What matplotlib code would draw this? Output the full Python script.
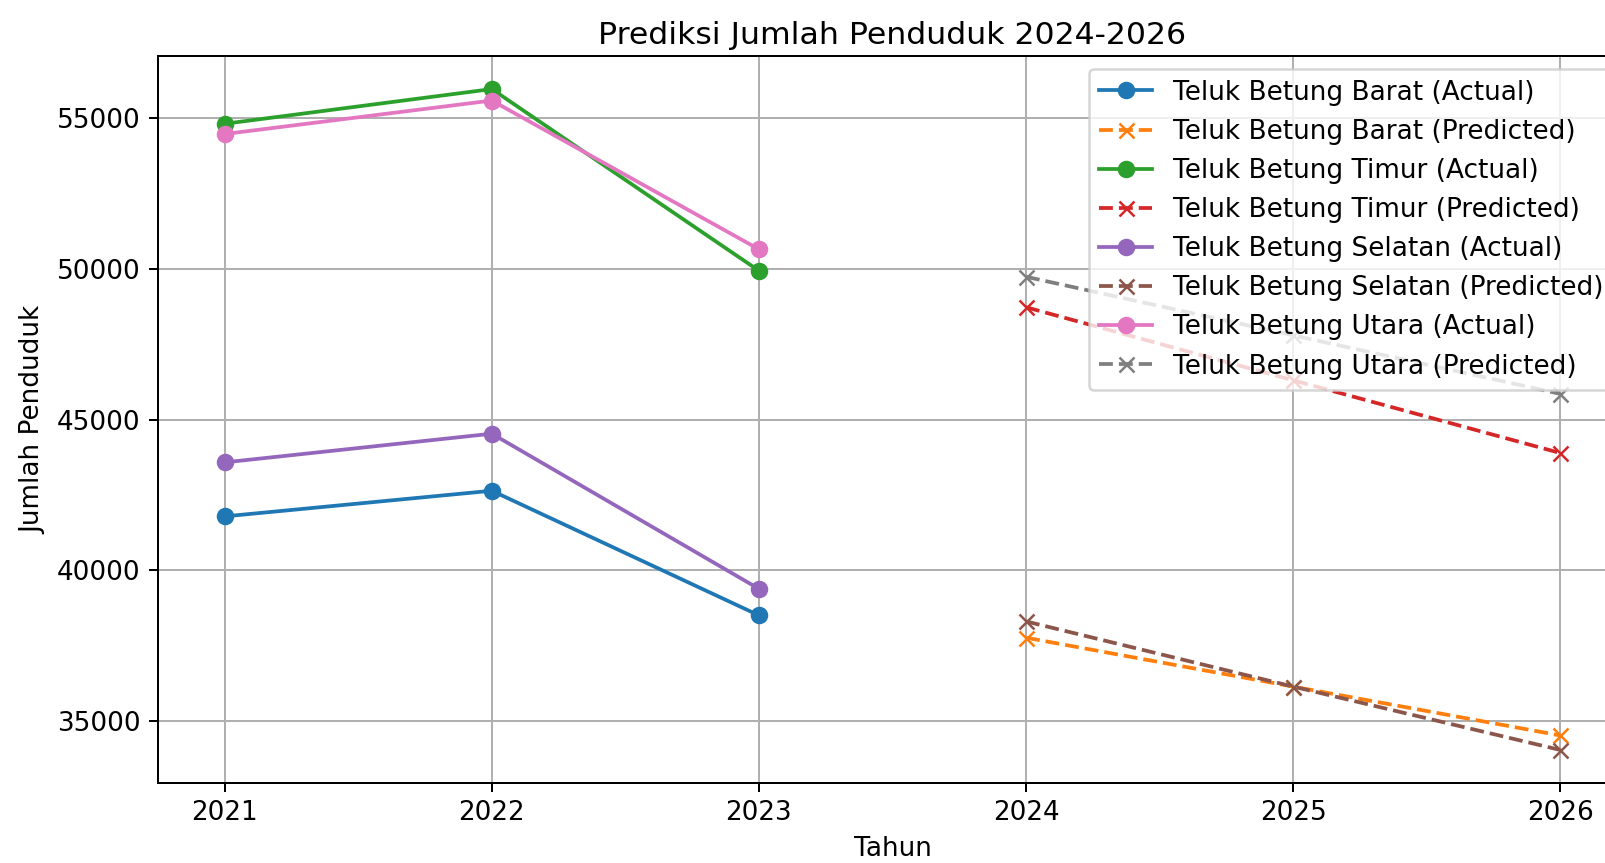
import matplotlib
matplotlib.use("Agg")
import matplotlib.pyplot as plt

years_actual = [2021, 2022, 2023]
years_pred = [2024, 2025, 2026]

districts = [
    "Teluk Betung Barat",
    "Teluk Betung Timur",
    "Teluk Betung Selatan",
    "Teluk Betung Utara",
]

barat_actual = [41790, 42640, 38510]
barat_pred = [37770, 36150, 34530]
timur_actual = [54800, 55950, 49930]
timur_pred = [48720, 46300, 43890]
selatan_actual = [43580, 44530, 39390]
selatan_pred = [38310, 36150, 34050]
utara_actual = [54460, 55570, 50640]
utara_pred = [49730, 47790, 45850]

actual = [barat_actual, timur_actual, selatan_actual, utara_actual]
predicted = [barat_pred, timur_pred, selatan_pred, utara_pred]

plt.rcParams['font.size'] = 10.5

fig = plt.figure(figsize=(1605 / 180, 863 / 180), dpi=180)
ax = fig.add_axes([0.0984, 0.0927, 0.9153, 0.8424])

for name, act, pred in zip(districts, actual, predicted):
    ax.plot(years_actual, act, marker='o', label=f"{name} (Actual)")
    ax.plot(years_pred, pred, marker='x', linestyle='--', label=f"{name} (Predicted)")

ax.set_title("Prediksi Jumlah Penduduk 2024-2026", pad=5)
ax.set_xlabel("Tahun")
ax.set_ylabel("Jumlah Penduduk")
ax.set_xticks(years_actual + years_pred)
ax.grid()
ax.legend(loc='upper right', labelspacing=0.5)

fig.savefig("out.png", dpi=180)
